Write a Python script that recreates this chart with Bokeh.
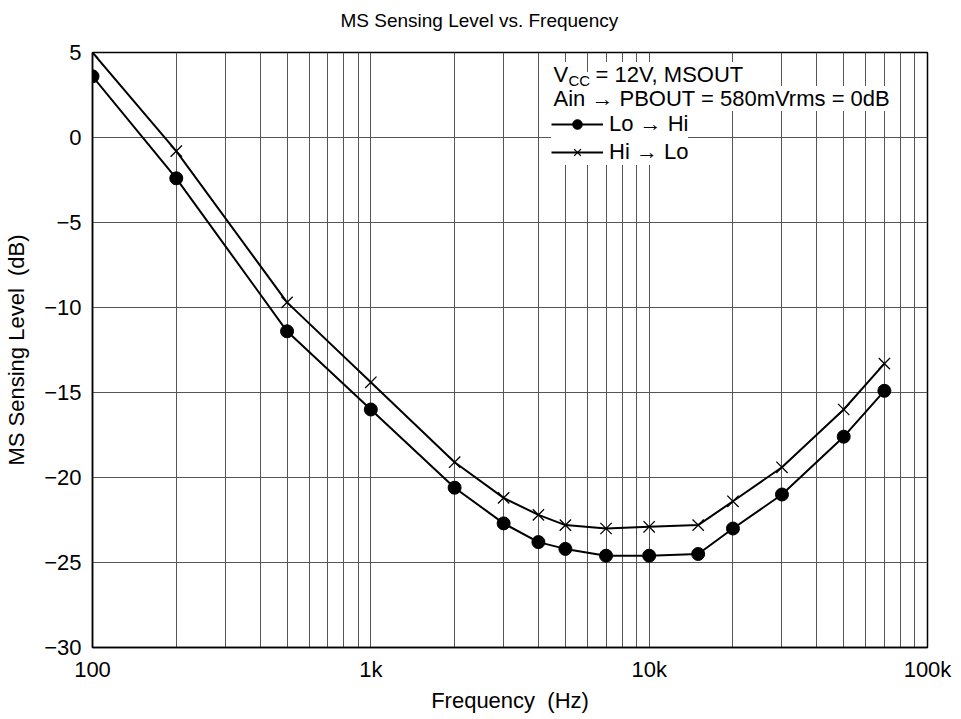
from bokeh.plotting import figure
from bokeh.models import (FixedTicker, Legend, LegendItem, Label, Title)
from bokeh.embed import file_html
from bokeh.resources import INLINE

# ---- data ----
freq = [100, 200, 500, 1000, 2000, 3000, 4000, 5000, 7000, 10000, 15000, 20000, 30000, 50000, 70000]
lo_to_hi = [3.6, -2.4, -11.4, -16.0, -20.6, -22.7, -23.8, -24.2, -24.6, -24.6, -24.5, -23.0, -21.0, -17.6, -14.9]
hi_to_lo = [5.0, -0.8, -9.7, -14.4, -19.1, -21.2, -22.2, -22.8, -23.0, -22.9, -22.8, -21.4, -19.4, -16.0, -13.3]

x_major = [100, 1000, 10000, 100000]
x_major_labels = ["100", "1k", "10k", "100k"]
x_minor = [m * d for d in (100, 1000, 10000) for m in range(2, 10)]
y_major = [-30, -25, -20, -15, -10, -5, 0, 5]
y_major_labels = ["\u221230", "\u221225", "\u221220", "\u221215", "\u221210", "\u22125", "0", "5"]

title_text = "MS Sensing Level vs. Frequency"
x_label = "Frequency\u00a0 (Hz)"
y_label = "MS Sensing Level\u00a0 (dB)"
note_line1_main = "V"
note_line1_sub = "CC"
note_line1_rest = "= 12V, MSOUT"
note_line2 = "Ain \u2192 PBOUT = 580mVrms = 0dB"
series_names = ["Lo \u2192 Hi", "Hi \u2192 Lo"]

FONT = "Liberation Sans"

p = figure(width=953, height=715, x_axis_type="log", x_range=(100, 100000), y_range=(-30, 5),
           output_backend="svg", toolbar_location=None,
           min_border_left=92, min_border_right=26, min_border_top=52, min_border_bottom=66)
p.title = None
# empty spacer between the title and the frame
spacer = Title(text=" ", align="left", standoff=0, text_font=FONT, text_font_size="13px")
t = Title(text=title_text, align="left", offset=248, standoff=10,
          text_font=FONT, text_font_size="19px", text_font_style="normal", text_color="black")
p.add_layout(spacer, "above")
p.add_layout(t, "above")

# axes
p.xaxis.ticker = FixedTicker(ticks=x_major, minor_ticks=x_minor)
p.yaxis.ticker = FixedTicker(ticks=y_major)
p.xaxis.major_label_overrides = {k: v for k, v in zip(x_major, x_major_labels)}
p.yaxis.major_label_overrides = {k: v for k, v in zip(y_major, y_major_labels)}
for ax in (p.xaxis, p.yaxis):
    ax.major_tick_line_color = None
    ax.minor_tick_line_color = None
    ax.axis_line_color = "black"
    ax.axis_line_width = 1.5
    ax.major_label_text_font = FONT
    ax.major_label_text_font_size = "22px"
    ax.major_label_text_color = "black"
    ax.axis_label_text_font = FONT
    ax.axis_label_text_font_size = "22px"
    ax.axis_label_text_font_style = "normal"
    ax.axis_label_text_color = "black"
p.xaxis.axis_label = x_label
p.yaxis.axis_label = y_label
p.xaxis.major_label_standoff = 3
p.yaxis.major_label_standoff = 5
p.xaxis.axis_label_standoff = 3
p.yaxis.axis_label_standoff = 12

p.xgrid.grid_line_color = "#555555"
p.xgrid.minor_grid_line_color = "#555555"
p.ygrid.grid_line_color = "#555555"
p.xgrid.grid_line_width = 1
p.ygrid.grid_line_width = 1
p.outline_line_color = "black"
p.outline_line_width = 1.5

# series
l1 = p.line(freq, lo_to_hi, line_color="black", line_width=2)
s1 = p.scatter(freq, lo_to_hi, marker="circle", size=13, fill_color="black", line_color="black")
l2 = p.line(freq, hi_to_lo, line_color="black", line_width=2)
s2 = p.scatter(freq, hi_to_lo, marker="x", size=16, line_color="black", line_width=1.3)

legend = Legend(items=[LegendItem(label=series_names[0], renderers=[l1, s1]),
                       LegendItem(label=series_names[1], renderers=[l2, s2])],
                location=(459, 482), orientation="vertical",
                glyph_width=52, glyph_height=24, label_height=24, label_standoff=6,
                padding=2, spacing=2, margin=0,
                border_line_color=None, background_fill_color="white", background_fill_alpha=1.0,
                label_text_font=FONT, label_text_font_size="22px", label_text_color="black")
p.add_layout(legend, "center")

# note text
common = dict(x_units="screen", y_units="screen", text_font=FONT, text_color="black",
              background_fill_color="white", text_baseline="middle")
p.add_layout(Label(x=461, y=573, text=note_line1_main, text_font_size="22px", **common))
p.add_layout(Label(x=476, y=567, text=note_line1_sub, text_font_size="15px", **common))
p.add_layout(Label(x=503, y=573, text=note_line1_rest, text_font_size="22px", **common))
p.add_layout(Label(x=461, y=549, text=note_line2, text_font_size="22px", **common))

open("out.html", "w").write(file_html(p, INLINE))
